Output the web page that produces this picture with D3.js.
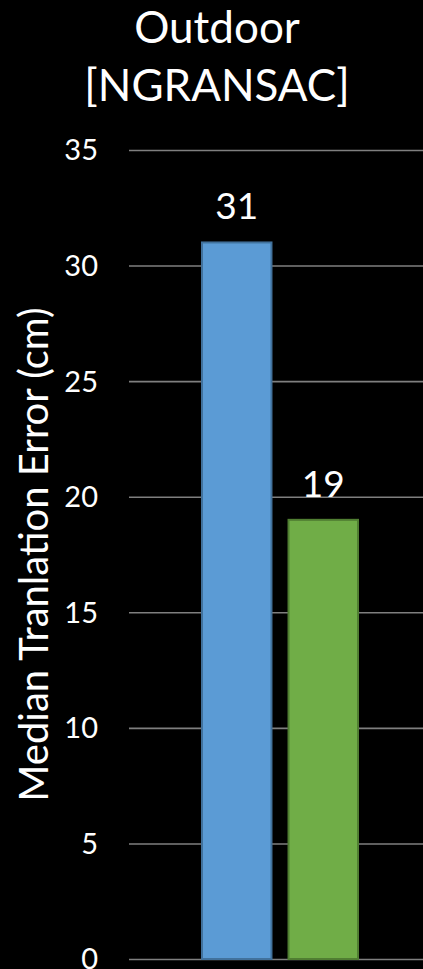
<!DOCTYPE html>
<html>
<head>
<meta charset="utf-8">
<script src="https://cdn.jsdelivr.net/npm/d3@7"></script>
<style>
  html, body { margin: 0; padding: 0; background: #000; }
  svg { display: block; }
  text { font-family: Lato, "Open Sans", sans-serif; fill: #fff; }
</style>
</head>
<body>
<script>
// Chart data
const titleLines = ["Outdoor", "[NGRANSAC]"];
const yLabel = "Median Tranlation Error (cm)";
const categories = ["Method 1", "Method 2"];
const values = [31, 19];
const colors = ["#5b9bd5", "#70ad47"];
const strokes = ["#41719c", "#507e32"];
const yTicks = [0, 5, 10, 15, 20, 25, 30, 35];

const W = 423, H = 969;
const svg = d3.select("body").append("svg").attr("width", W).attr("height", H);
svg.append("rect").attr("width", W).attr("height", H).attr("fill", "#000");

const y = d3.scaleLinear().domain([0, 35]).range([959, 150]);
const x = d3.scaleBand().domain(categories).range([202, 358]).paddingInner(0.197).paddingOuter(0);

// Title
svg.append("g").selectAll("text").data(titleLines).join("text")
  .attr("x", 217)
  .attr("y", (d, i) => 43 + i * 58)
  .attr("text-anchor", "middle")
  .attr("font-size", 44)
  .text(d => d);

// Gridlines and tick labels
const axis = d3.axisLeft(y).tickValues(yTicks).tickSize(-(W - 129)).tickPadding(31);
const gAxis = svg.append("g").attr("transform", "translate(129,0)").call(axis);
gAxis.select(".domain").remove();
gAxis.selectAll(".tick line").attr("stroke", "#7f7f7f").attr("stroke-width", 1.6);
gAxis.selectAll(".tick text")
  .attr("fill", "#fff")
  .attr("font-size", 29)
  .attr("font-family", "Lato, 'Open Sans', sans-serif")
  .attr("dy", "0.34em");

// Y-axis title
svg.append("text")
  .attr("transform", `translate(48,${(y(0) + y(35)) / 2}) rotate(-90)`)
  .attr("text-anchor", "middle")
  .attr("font-size", 40)
  .text(yLabel);

// Bars
svg.append("g").selectAll("rect").data(values).join("rect")
  .attr("x", (d, i) => x(categories[i]))
  .attr("y", d => y(d))
  .attr("width", x.bandwidth())
  .attr("height", d => y(0) - y(d))
  .attr("fill", (d, i) => colors[i])
  .attr("stroke", (d, i) => strokes[i])
  .attr("stroke-width", 2);

// Value labels
svg.append("g").selectAll("text").data(values).join("text")
  .attr("x", (d, i) => x(categories[i]) + x.bandwidth() / 2)
  .attr("y", d => y(d) - 23)
  .attr("text-anchor", "middle")
  .attr("font-size", 37)
  .text(d => d);
</script>
</body>
</html>
